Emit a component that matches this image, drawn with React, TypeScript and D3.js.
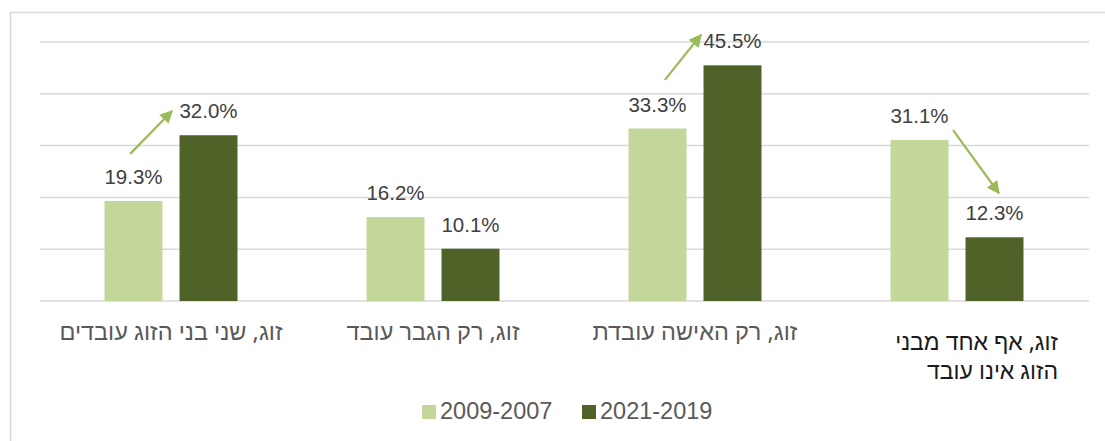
import React from "react";
import * as d3 from "d3";

const categories = [
  "זוג, שני בני הזוג עובדים",
  "זוג, רק הגבר עובד",
  "זוג, רק האישה עובדת",
  "זוג, אף אחד מבני|הזוג אינו עובד",
];
const seriesNames = ["2009-2007", "2021-2019"];
const series2007 = [19.3, 16.2, 33.3, 31.1];
const series2019 = [32.0, 10.1, 45.5, 12.3];
const yTicks = [0, 10, 20, 30, 40, 50];
// annotation arrows in data space: category index, band fraction, value
const arrows = [
  { cat: 0, f1: 0.344, v1: 28.4, f2: 0.504, v2: 36.7 },
  { cat: 2, f1: 0.385, v1: 42.7, f2: 0.523, v2: 51.4 },
  { cat: 3, f1: 0.485, v1: 33.0, f2: 0.66, v2: 20.8 },
];

const W = 1105;
const H = 441;
const colors = ["#c4d79b", "#4f6228"];
const arrowColor = "#9bbb59";

export default function App() {
  const x0 = d3.scaleBand<number>().domain(d3.range(categories.length)).range([40, 1088]).padding(0);
  const x1 = d3
    .scaleBand<number>()
    .domain([0, 1])
    .range([0, x0.bandwidth()])
    .paddingInner(0.227)
    .paddingOuter(0.86);
  const y = d3.scaleLinear().domain([0, 50]).range([301, 42]);
  const data = [series2007, series2019];
  const font = "'Liberation Sans', Arial, sans-serif";
  const hebFont = "'Noto Sans', sans-serif";

  return (
    <svg
      width={W}
      height={H}
      style={{ position: "absolute", left: 0, top: 0, background: "#fff" }}
      fontFamily={font}
    >
      <defs>
        <marker
          id="ah"
          viewBox="0 0 10 10"
          refX="9"
          refY="5"
          markerWidth="15"
          markerHeight="13"
          markerUnits="userSpaceOnUse"
          orient="auto"
        >
          <path d="M0,0 L10,5 L0,10 Z" fill={arrowColor} />
        </marker>
      </defs>
      <rect x={10.5} y={12.5} width={1200} height={600} fill="#fff" stroke="#d9d9d9" strokeWidth={1.5} />
      {yTicks.map((t) => (
        <line key={t} x1={40} x2={1089} y1={y(t)} y2={y(t)} stroke="#d9d9d9" strokeWidth={1.5} />
      ))}
      {data.map((vals, s) =>
        vals.map((v, i) => {
          const bx = (x0(i) as number) + (x1(s) as number);
          return (
            <g key={`${s}-${i}`}>
              <rect x={bx} y={y(v)} width={x1.bandwidth()} height={y(0) - y(v)} fill={colors[s]} />
              <text
                x={bx + x1.bandwidth() / 2}
                y={y(v) - 17}
                textAnchor="middle"
                fontSize={20.5}
                fill="#404040"
              >
                {v.toFixed(1)}%
              </text>
            </g>
          );
        })
      )}
      {arrows.map((a, k) => {
        const bx = x0(a.cat) as number;
        const bw = x0.bandwidth();
        return (
          <line
            key={k}
            x1={bx + a.f1 * bw}
            y1={y(a.v1)}
            x2={bx + a.f2 * bw}
            y2={y(a.v2)}
            stroke={arrowColor}
            strokeWidth={2.2}
            markerEnd="url(#ah)"
          />
        );
      })}
      {categories.map((c, i) => {
        const lines = c.split("|");
        const cx = (x0(i) as number) + x0.bandwidth() / 2;
        if (lines.length === 1) {
          return (
            <text key={i} x={cx} y={340} textAnchor="middle" fontSize={23.5} fontFamily={hebFont} fill="#595959">
              {c}
            </text>
          );
        }
        return (
          <g key={i}>
            {lines.map((l, j) => (
              <text
                key={j}
                x={1058}
                y={350 + j * 28.5}
                textAnchor="end"
                fontSize={23}
                fontFamily={hebFont}
                fill="#1a1a1a"
              >
                {l}
              </text>
            ))}
          </g>
        );
      })}
      {seriesNames.map((n, s) => {
        const lx = [422, 582][s];
        return (
          <g key={n}>
            <rect x={lx} y={405} width={14} height={14} fill={colors[s]} />
            <text x={lx + 18} y={418.5} fontSize={23.5} fill="#595959">
              {n}
            </text>
          </g>
        );
      })}
    </svg>
  );
}
